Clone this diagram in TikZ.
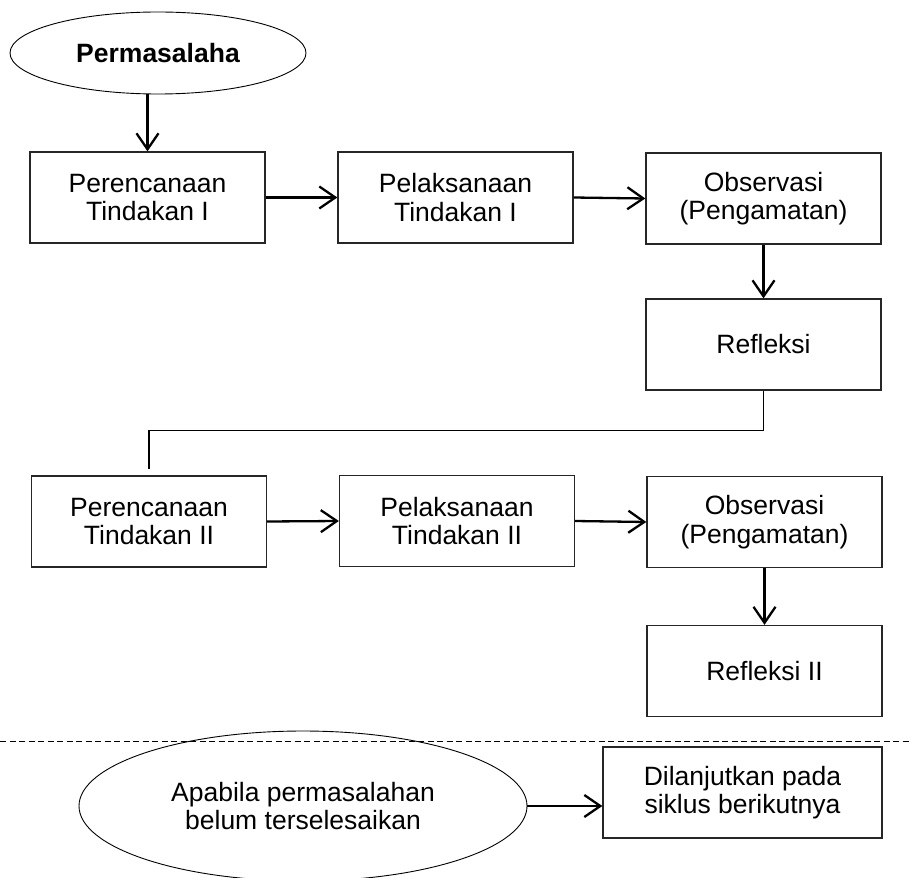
\documentclass[tikz,border=0pt]{standalone}
\usepackage{fontspec}
\setmainfont{Liberation Sans}
\usetikzlibrary{arrows.meta,shapes.geometric}
\begin{document}
\begin{tikzpicture}[x=1pt,y=-1pt,
  txt/.style={font=\fontsize{26.5}{28.5}\selectfont},
  box/.style={txt, draw=black!85, line width=1.3pt, minimum width=235pt, minimum height=91pt, align=center, inner sep=0pt},
  oval/.style={txt, draw=black, ellipse, line width=0.9pt, inner sep=0pt, align=center},
  arr/.style={line width=2.3pt, -{Straight Barb[length=16pt,width=22pt]}},
  link/.style={line width=1.4pt},
  sep/.style={line width=1pt, dash pattern=on 6pt off 3.5pt}]
\useasboundingbox (0,0) rectangle (909,877);
\node[oval, minimum width=296pt, minimum height=82pt, font=\fontsize{26.5}{28.5}\selectfont\bfseries] (e1) at (158,53) {Permasalaha};
\node[box] (b1) at (147.5,197.5) {Perencanaan\\Tindakan I};
\node[box] (b2) at (455.5,197.5) {Pelaksanaan\\Tindakan I};
\node[box] (b3) at (763.5,198.5) {Observasi\\(Pengamatan)};
\node[box] (r1) at (763.5,344.5) {Refleksi};
\node[box] (b4) at (149,521.5) {Perencanaan\\Tindakan II};
\node[box] (b5) at (457,521) {Pelaksanaan\\Tindakan II};
\node[box] (b6) at (764.5,522) {Observasi\\(Pengamatan)};
\node[box] (r2) at (764.5,671) {Refleksi II};
\node[oval, minimum width=448pt, minimum height=150pt] (e2) at (303,806) {Apabila permasalahan\\belum terselesaikan};
\node[box, minimum width=279pt] (d) at (742.5,792.5) {Dilanjutkan pada\\siklus berikutnya};
\coordinate (dl) at (0,741);
\coordinate (dr) at (909,741);
\draw[sep] (dl) -- (dr);
\draw[arr] (b1.north |- e1.south) -- (b1.north);
\draw[arr] (b1.east) -- (b2.west);
\draw[arr] (b2.east) -- (b3.west);
\draw[arr] (b3.south) -- (r1.north);
\draw[link] (r1.south) -- ++(0,40) -| ([yshift=6pt]b4.north);
\draw[arr] (b4.east) -- (b5.west);
\draw[arr] (b5.east) -- (b6.west);
\draw[arr] (b6.south) -- (r2.north);
\draw[arr] (e2.east) -- (e2.east -| d.west);
\end{tikzpicture}
\end{document}
